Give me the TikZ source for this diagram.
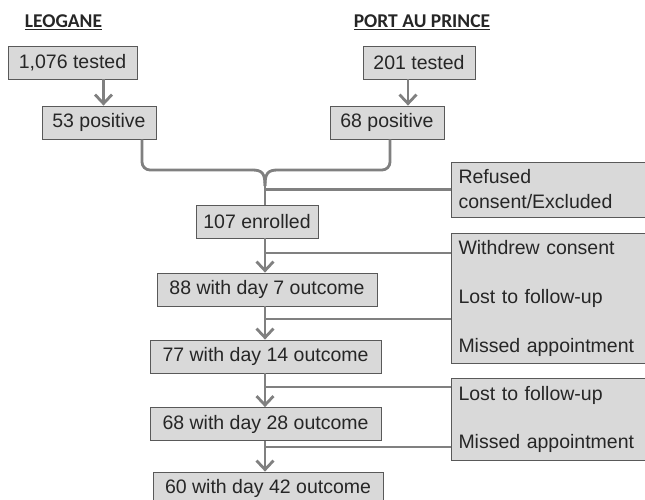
\documentclass[tikz,border=0pt]{standalone}
\usepackage{fontspec}
\setmainfont{Liberation Sans}
\newfontfamily\headfont{Carlito}
\usetikzlibrary{arrows.meta,calc}
\definecolor{boxgray}{RGB}{217,217,217}
\definecolor{edgegray}{RGB}{89,89,89}
\definecolor{linegray}{RGB}{128,128,128}
\definecolor{textgray}{RGB}{38,38,38}

\begin{document}
\begin{tikzpicture}[x=1pt, y=-1pt,
    stagebox/.style={draw=edgegray, fill=boxgray, line width=0.8pt, minimum height=33pt, inner sep=0pt, text=textgray, font=\fontsize{19.5}{23}\selectfont},
    sidebox/.style={stagebox, text width=181pt, align=left, inner xsep=7pt},
    flow/.style={draw=linegray, line width=2.8pt},
    arr/.style={flow, -{Straight Barb[length=9pt,width=17pt]}},
    head/.style={text=textgray, font=\headfont\bfseries\fontsize{19.5}{23}\selectfont}]
        \useasboundingbox (0,0) rectangle (645,500);

        % Site headers
        \node[head] (leo) at (63.5,22) {\underline{LEOGANE}};
        \node[head] (pap) at (422,22) {\underline{PORT AU PRINCE}};

        % Screening boxes
        \node[stagebox, minimum width=129pt] (t1) at (72.5,62.5) {1,076 tested};
        \node[stagebox, minimum width=112pt] (t2) at (419,62.5) {201 tested};
        \node[stagebox, minimum width=114pt] (p1) at (99,122.5) {53 positive};
        \node[stagebox, minimum width=114pt] (p2) at (387,122.5) {68 positive};

        % Follow-up boxes
        \node[stagebox, minimum width=122pt] (enr) at (257,221.5) {107 enrolled};
        \node[stagebox, minimum width=220pt] (d7) at (267,289.5) {88 with day 7 outcome};
        \node[stagebox, minimum width=231pt] (d14) at (265.5,356.5) {77 with day 14 outcome};
        \node[stagebox, minimum width=231pt] (d28) at (265.5,424) {68 with day 28 outcome};
        \node[stagebox, minimum width=230pt] (d42) at (268,488.5) {60 with day 42 outcome};

        % Exclusion boxes
        \node[sidebox, minimum height=55pt, font=\fontsize{19.5}{25}\selectfont] (ref) at (549,189.5) {Refused\\consent/Excluded};
        \node[sidebox, minimum height=130pt, font=\fontsize{19.5}{49}\selectfont] (ex1) at (549,298) {Withdrew consent\\Lost to follow-up\\Missed appointment};
        \node[sidebox, minimum height=82pt, font=\fontsize{19.5}{48}\selectfont] (ex2) at (549,419) {Lost to follow-up\\Missed appointment};

        % Spine and merge point
        \coordinate (spine) at (265,0);
        \coordinate (merge) at (265,186);
        \coordinate (b1) at (ex1.west |- 0,253);
        \coordinate (b2) at (ex1.west |- 0,319);
        \coordinate (b3) at (ex2.west |- 0,387);
        \coordinate (b4) at (ex2.west |- 0,447);

        % Tested -> positive
        \draw[arr] ([xshift=31pt]t1.south) -- ([xshift=31pt]t1.south |- p1.north);
        \draw[arr] ([xshift=-11pt]t2.south) -- ([xshift=-11pt]t2.south |- p2.north);

        % Merge of both sites
        \draw[flow, rounded corners=8pt] ([xshift=43pt]p1.south) |- ($(merge)+(-13,-16)$);
        \draw[flow, rounded corners=8pt] ([xshift=3pt]p2.south) |- ($(merge)+(13,-16)$);
        \draw[flow] ($(merge)+(-13,-16)$) .. controls ($(merge)+(-3,-16)$) and ($(merge)+(0,-13)$) .. (merge);
        \draw[flow] ($(merge)+(13,-16)$) .. controls ($(merge)+(3,-16)$) and ($(merge)+(0,-13)$) .. (merge);
        \draw[flow] (merge) -- (merge |- enr.north);
        \draw[flow] (ref.west) -- (ref.west -| spine);

        % Follow-up arrows
        \draw[arr] (enr.south -| spine) -- (d7.north -| spine);
        \draw[arr] (d7.south -| spine) -- (d14.north -| spine);
        \draw[arr] (d14.south -| spine) -- (d28.north -| spine);
        \draw[arr] (d28.south -| spine) -- (d42.north -| spine);

        % Losses
        \draw[flow] (b1 -| spine) -- (b1);
        \draw[flow] (b2 -| spine) -- (b2);
        \draw[flow] (b3 -| spine) -- (b3);
        \draw[flow] (b4 -| spine) -- (b4);
    \end{tikzpicture}
\end{document}
